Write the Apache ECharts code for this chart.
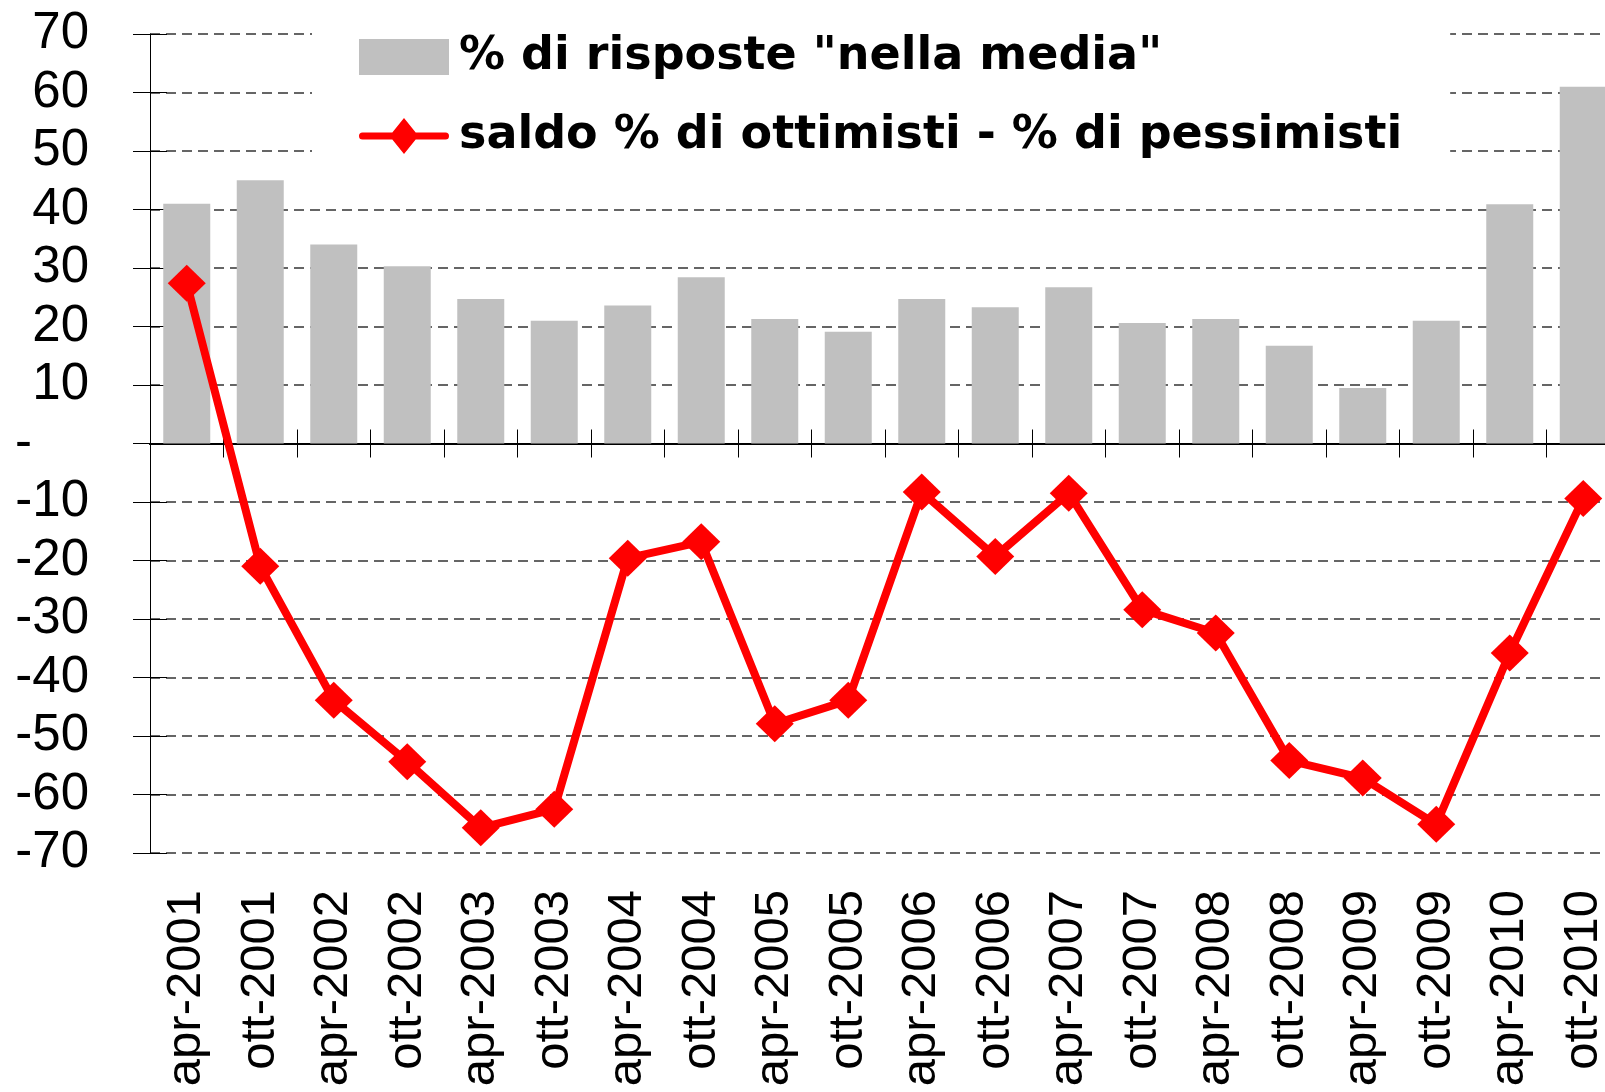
<!DOCTYPE html>
<html>
<head>
<meta charset="utf-8">
<title>saldo ottimisti / pessimisti</title>
<script src="https://cdn.jsdelivr.net/npm/echarts@6/dist/echarts.min.js"></script>
<style>
    html, body { margin: 0; padding: 0; background: #fff; }
    #chart { width: 1605px; height: 1092px; }
</style>
</head>
<body>
<div id="chart"></div>
<script>
// periodi dell'indagine (semestrali)
const periods = [
    'apr-2001', 'ott-2001', 'apr-2002', 'ott-2002', 'apr-2003', 'ott-2003',
    'apr-2004', 'ott-2004', 'apr-2005', 'ott-2005', 'apr-2006', 'ott-2006',
    'apr-2007', 'ott-2007', 'apr-2008', 'ott-2008', 'apr-2009', 'ott-2009',
    'apr-2010', 'ott-2010'
];

// % di risposte "nella media" (barre grigie)
const nellaMedia = [
    41, 45, 34, 30.3, 24.7, 21,
    23.6, 28.4, 21.3, 19.1, 24.7, 23.3,
    26.7, 20.6, 21.3, 16.7, 9.5, 21,
    40.9, 61
];

// saldo % ottimisti - % pessimisti (linea rossa)
const saldo = [
    27.4, -21, -43.9, -54.4, -65.7, -62.5,
    -19.6, -16.8, -47.9, -43.9, -8.3, -19.3,
    -8.5, -28.4, -32.4, -54.2, -57.2, -65.1,
    -35.8, -9.4
];

const barName = '% di risposte "nella media"';
const lineName = 'saldo % di ottimisti - % di pessimisti';

const labelFont = 'Liberation Sans, Arial, sans-serif';

// icona legenda: linea spessa con rombo al centro
const lineIcon = 'path://M3.5,14.5 L86.5,14.5 A3.5,3.5 0 0 1 86.5,21.5 L3.5,21.5 A3.5,3.5 0 0 1 3.5,14.5 Z ' +
    'M45,0 L59.5,18 L45,36 L30.5,18 Z';

const myChart = echarts.init(document.getElementById('chart'), null, { renderer: 'canvas' });

const option = {
    animation: false,
    backgroundColor: '#fff',
    grid: {
        left: 150,
        top: 34,
        width: 1470,
        height: 819,
        containLabel: false,
        outerBoundsMode: 'none'
    },
    legend: {
        orient: 'vertical',
        left: 312,
        top: 26,
        backgroundColor: '#fff',
        padding: [8, 48, 30, 47],
        itemWidth: 90,
        itemHeight: 36,
        itemGap: 33,
        textStyle: {
            fontFamily: 'DejaVu Sans',
            fontWeight: 'bold',
            fontSize: 46,
            lineHeight: 40,
            color: '#000',
            padding: [0, 0, 0, 5]
        },
        data: [
            { name: barName, icon: 'rect' },
            { name: lineName, icon: lineIcon }
        ]
    },
    xAxis: [
        // etichette in basso
        {
            type: 'category',
            data: periods,
            position: 'bottom',
            axisLine: { show: false, onZero: false },
            axisTick: { show: false },
            axisLabel: {
                rotate: 90,
                margin: 37,
                fontSize: 49,
                fontFamily: labelFont,
                color: '#000',
                interval: 0
            },
            splitLine: { show: false }
        },
        // asse sullo zero, tacche verso il basso
        {
            type: 'category',
            data: periods,
            position: 'bottom',
            axisLine: { show: true, onZero: true, lineStyle: { color: '#000', width: 2 } },
            axisTick: { show: true, length: 14, interval: 0, lineStyle: { color: '#000', width: 1 } },
            axisLabel: { show: false },
            splitLine: { show: false }
        },
        // tacche verso l'alto
        {
            type: 'category',
            data: periods,
            position: 'bottom',
            axisLine: { show: true, onZero: true, lineStyle: { color: '#000', width: 2 } },
            axisTick: { show: true, inside: true, length: 14, interval: 0, lineStyle: { color: '#000', width: 1 } },
            axisLabel: { show: false },
            splitLine: { show: false }
        }
    ],
    yAxis: [
        {
            type: 'value',
            min: -70,
            max: 70,
            interval: 10,
            position: 'left',
            axisLine: { show: true, onZero: false, lineStyle: { color: '#000', width: 1 } },
            axisTick: { show: true, length: 17, lineStyle: { color: '#000', width: 1 } },
            axisLabel: {
                margin: 61,
                fontSize: 51,
                fontFamily: labelFont,
                color: '#000',
                formatter: function (v) {
                    return v === 0 ? '{z|-}' : String(v);
                },
                rich: {
                    z: { width: 74, align: 'left', fontSize: 51, fontFamily: labelFont, color: '#000' }
                }
            },
            splitLine: {
                show: true,
                lineStyle: { type: [10, 6], color: '#333', width: 1.5 }
            }
        },
        {
            type: 'value',
            min: -70,
            max: 70,
            interval: 10,
            position: 'left',
            axisLine: { show: false, onZero: false },
            axisTick: { show: true, inside: true, length: 17, lineStyle: { color: '#000', width: 1 } },
            axisLabel: { show: false },
            splitLine: { show: false }
        }
    ],
    series: [
        {
            name: barName,
            type: 'bar',
            xAxisIndex: 0,
            yAxisIndex: 0,
            data: nellaMedia,
            barWidth: 47,
            itemStyle: { color: '#c0c0c0' },
            z: 1
        },
        {
            name: lineName,
            type: 'line',
            xAxisIndex: 0,
            yAxisIndex: 0,
            data: saldo,
            symbol: 'diamond',
            symbolSize: [38, 37],
            lineStyle: { color: '#ff0000', width: 8 },
            itemStyle: { color: '#ff0000' },
            z: 3
        }
    ]
};

myChart.setOption(option);
</script>
</body>
</html>
